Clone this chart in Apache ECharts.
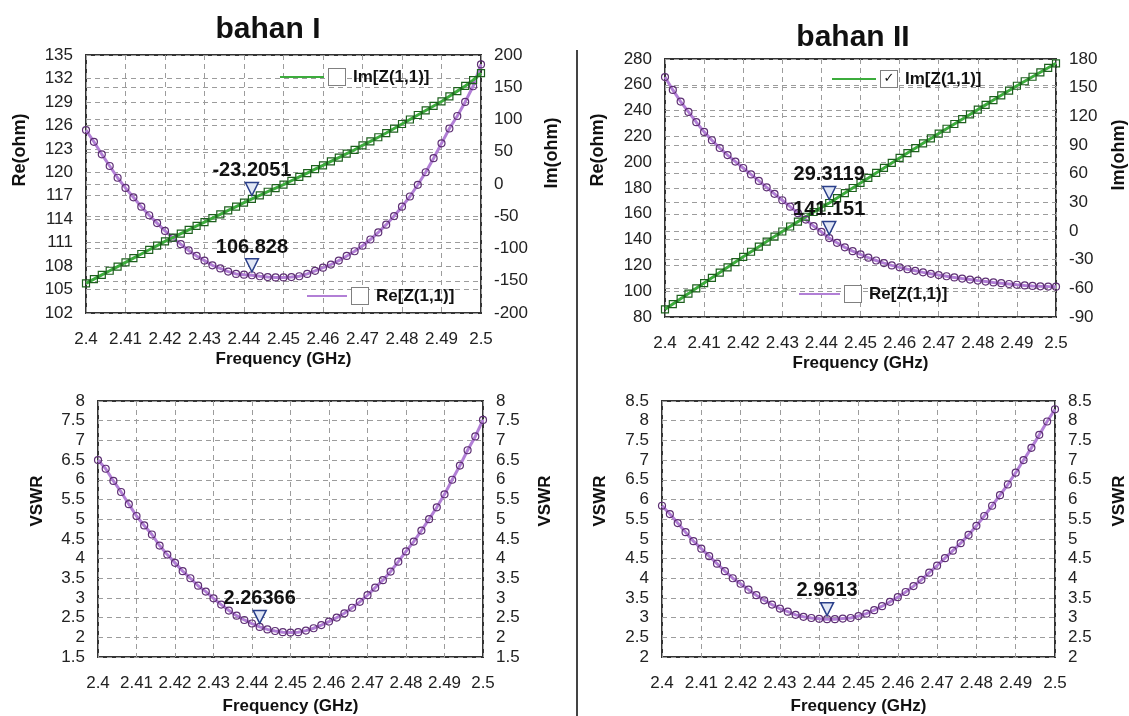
<!DOCTYPE html>
<html>
<head>
<meta charset="utf-8">
<script src="https://cdn.jsdelivr.net/npm/echarts@6/dist/echarts.min.js"></script>
<style>
html,body{margin:0;padding:0;background:#fff;}
#c{width:1129px;height:716px;}
</style>
</head>
<body>
<div id="c"></div>
<script>
// ---------- data ----------
const freqs = [2.400,2.402,2.404,2.406,2.408,2.410,2.412,2.414,2.416,2.418,
               2.420,2.422,2.424,2.426,2.428,2.430,2.432,2.434,2.436,2.438,
               2.440,2.442,2.444,2.446,2.448,2.450,2.452,2.454,2.456,2.458,
               2.460,2.462,2.464,2.466,2.468,2.470,2.472,2.474,2.476,2.478,
               2.480,2.482,2.484,2.486,2.488,2.490,2.492,2.494,2.496,2.498,2.500];

// bahan I
const reZ1 = [125.4,123.9,122.3,120.8,119.3,118.0,116.8,115.6,114.5,113.5,
              112.5,111.6,110.8,110.0,109.3,108.7,108.1,107.7,107.3,107.0,
              106.9,106.828,106.7,106.6,106.55,106.55,106.6,106.7,107.0,107.4,
              107.8,108.2,108.7,109.3,109.9,110.6,111.4,112.3,113.3,114.4,
              115.6,116.9,118.4,120.0,121.8,123.7,125.6,127.2,129.0,131.0,133.8];
const imZ1 = [-154,-147.5,-141,-134.5,-128,-121.5,-115,-108.5,-102,-95.5,
              -89,-83,-77,-71,-65,-59,-53,-47,-41,-35,
              -29,-23.2051,-17.5,-12,-6.5,-1,5,11,17,23,
              29,35,41,47,53,60,66,72.5,79,86,
              93,100,107,114,121,128,136,144,152,161,172];
const vswr1 = [6.50,6.28,5.97,5.69,5.38,5.08,4.84,4.61,4.33,4.10,
               3.89,3.68,3.50,3.31,3.16,2.99,2.83,2.68,2.55,2.44,
               2.35,2.26366,2.20,2.16,2.13,2.12,2.13,2.17,2.23,2.31,
               2.40,2.50,2.61,2.75,2.90,3.07,3.26,3.45,3.67,3.92,
               4.18,4.43,4.71,5.00,5.30,5.63,6.00,6.36,6.75,7.10,7.52];

// bahan II
const reZ2 = [266,256,247,239,231,223.5,217,211,205.5,200.5,
              195.5,190.5,185.5,180.5,175.5,170.5,165.5,160.5,155.5,150.5,
              146,141.151,137.5,134,131,128.5,126,123.8,121.8,120,
              118.5,117,115.8,114.6,113.5,112.5,111.6,110.7,109.8,109,
              108.2,107.5,106.8,106.2,105.6,105,104.5,104.1,103.8,103.6,103.5];
const imZ2 = [-82,-76.5,-71,-65.5,-60,-54.5,-49,-43.5,-38,-32.5,
              -27,-21.7,-16.4,-11.1,-5.8,-0.5,4.7,9.8,14.9,19.9,
              24.6,29.3119,34.5,39.7,45,50.3,55.5,60.8,66,71.2,
              76.5,81.6,86.7,91.8,96.9,102,107,112,117,122,
              127,132,137,142,147,152,156.7,161.4,166.1,170.8,175.5];
const vswr2 = [5.84,5.63,5.40,5.17,4.94,4.75,4.56,4.37,4.18,4.00,
               3.86,3.71,3.57,3.44,3.33,3.23,3.15,3.07,3.02,2.99,
               2.97,2.9613,2.96,2.975,2.99,3.04,3.10,3.19,3.29,3.40,
               3.52,3.65,3.80,3.96,4.14,4.32,4.51,4.70,4.89,5.10,
               5.33,5.58,5.84,6.11,6.38,6.68,7.00,7.31,7.64,7.98,8.29];

const markerIndex = 21;   // marker placed at 2.442 GHz
const titles = ['bahan I', 'bahan II'];
const RE_NAME = 'Re[Z(1,1)]';
const IM_NAME = 'Im[Z(1,1)]';

// ---------- styling helpers ----------
const F = "'Liberation Sans', Arial, Helvetica, sans-serif";
const GRID_LINE = {color:'#9c9c9c', type:[5,4], width:1};
const RE_LINE = '#b27fd6', RE_MARK = '#5d2f73';
const IM_LINE = '#3cac3c', IM_MARK = '#1d5f1d';

function xAx(gi, gap) {
  return {
    type:'value', gridIndex:gi, min:2.4, max:2.5, interval:0.01,
    name:'Frequency (GHz)', nameLocation:'middle', nameGap:gap,
    nameTextStyle:{fontFamily:F, fontWeight:'bold', fontSize:17, color:'#111'},
    axisLine:{show:false}, axisTick:{show:false},
    axisLabel:{fontFamily:F, fontSize:17, color:'#222', margin:18,
      formatter: v => String(+v.toFixed(2))},
    splitLine:{show:true, lineStyle:GRID_LINE}
  };
}
function yAx(gi, pos, min, max, interval, name, gap, shift, split, nameSize) {
  return {
    type:'value', gridIndex:gi, position:pos, min, max, interval,
    name, nameLocation:'middle', nameRotate:90, nameGap:gap,
    nameTextStyle:{fontFamily:F, fontWeight:'bold', fontSize:nameSize, color:'#111',
      padding:[0,0,0,2*shift]},
    axisLine:{show:false}, axisTick:{show:false},
    axisLabel:{fontFamily:F, fontSize:17, color:'#222', margin:13,
      formatter: v => String(+v.toFixed(2))},
    splitLine:{show:split, lineStyle:GRID_LINE}
  };
}
function curve(name, xi, yi, vals, isIm) {
  return {
    type:'line', name, xAxisIndex:xi, yAxisIndex:yi,
    data: freqs.map((f,i)=>[f, vals[i]]),
    symbol: isIm ? 'rect' : 'circle', symbolSize: 7, showSymbol:true,
    lineStyle:{color: isIm ? IM_LINE : RE_LINE, width:3},
    itemStyle:{color:'rgba(255,255,255,0)', borderColor: isIm ? IM_MARK : RE_MARK, borderWidth:1.2},
    emphasis:{disabled:true},
    markPoint:{
      symbol:'triangle', symbolRotate:180, symbolSize:[13,13], symbolOffset:[0,-10],
      itemStyle:{color:'#e2e8f6', borderColor:'#2a3f8a', borderWidth:1.5},
      label:{show:true, position:'top', distance:1, fontFamily:F, fontSize:20,
        fontWeight:'bold', color:'#111', formatter: p => String(p.value)},
      data:[{coord:[freqs[markerIndex], vals[markerIndex]], value: vals[markerIndex]}]
    }
  };
}
function leg(name, left, top, iconW, color, checked) {
  return {
    left, top, padding:0, selectedMode:false,
    icon:'path://M0,0H' + iconW + 'V2H0Z', itemWidth:iconW, itemHeight:2,
    data:[{name, itemStyle:{color, borderWidth:0}}],
    formatter: n => (checked ? '{boxc|\u2713}' : '{box|\u00a0}') + '{sp|\u00a0}{t|' + n + '}',
    textStyle:{rich:{
      box:{width:16, height:16, borderColor:'#808080', borderWidth:1, backgroundColor:'#fff'},
      boxc:{width:16, height:16, borderColor:'#808080', borderWidth:1, backgroundColor:'#fff',
            align:'center', fontFamily:"'DejaVu Sans', sans-serif", fontWeight:'bold', fontSize:13, color:'#111', lineHeight:16},
      sp:{width:8},
      t:{fontFamily:F, fontSize:17, fontWeight:'bold', color:'#111', lineHeight:18}
    }}
  };
}

const chart = echarts.init(document.getElementById('c'), null, {renderer:'canvas'});
chart.setOption({
  animation:false,
  backgroundColor:'#ffffff',
  grid:[
    {left:86,  top:55,  width:395, height:258, show:true, borderColor:'#333', borderWidth:2, backgroundColor:'#fff'},
    {left:665, top:59,  width:394, height:258, show:true, borderColor:'#333', borderWidth:2, backgroundColor:'#fff'},
    {left:98,  top:401, width:385, height:258, show:true, borderColor:'#333', borderWidth:2, backgroundColor:'#fff'},
    {left:662, top:401, width:395, height:258, show:true, borderColor:'#333', borderWidth:2, backgroundColor:'#fff'}
  ],
  xAxis:[xAx(0,38), xAx(1,38), xAx(2,41), xAx(3,41)],
  yAxis:[
    yAx(0,'left', 102,135,3,   'Re(ohm)',57,34,true,18),
    yAx(0,'right',-200,200,50, 'Im(ohm)',62,31,true,18),
    yAx(1,'left', 80,280,20,   'Re(ohm)',58,38,true,18),
    yAx(1,'right',-90,180,30,  'Im(ohm)',54,33,true,18),
    yAx(2,'left', 1.5,8,0.5,   'VSWR',52,28,true,17),
    yAx(2,'right',1.5,8,0.5,   'VSWR',54,28,false,17),
    yAx(3,'left', 2,8.5,0.5,   'VSWR',53,28,true,17),
    yAx(3,'right',2,8.5,0.5,   'VSWR',56,28,false,17)
  ],
  legend:[
    leg(IM_NAME, 280, 68, 44, IM_LINE, false),
    leg(RE_NAME, 307, 287, 40, RE_LINE, false),
    leg(IM_NAME, 832, 70, 44, IM_LINE, true),
    leg(RE_NAME, 799, 285, 41, RE_LINE, false)
  ],
  series:[
    curve(RE_NAME, 0, 0, reZ1, false),
    curve(IM_NAME, 0, 1, imZ1, true),
    curve(RE_NAME, 1, 2, reZ2, false),
    curve(IM_NAME, 1, 3, imZ2, true),
    curve('VSWR', 2, 4, vswr1, false),
    curve('VSWR', 3, 6, vswr2, false)
  ],
  graphic:[
    {type:'line', shape:{x1:577, y1:50, x2:577, y2:716}, style:{stroke:'#444', lineWidth:2}},
    {type:'text', x:268, y:30, style:{text:titles[0], fontFamily:F, fontWeight:'bold', fontSize:30, fill:'#111', align:'center', verticalAlign:'middle'}},
    {type:'text', x:853, y:38, style:{text:titles[1], fontFamily:F, fontWeight:'bold', fontSize:30, fill:'#111', align:'center', verticalAlign:'middle'}}
  ]
});
</script>
</body>
</html>
